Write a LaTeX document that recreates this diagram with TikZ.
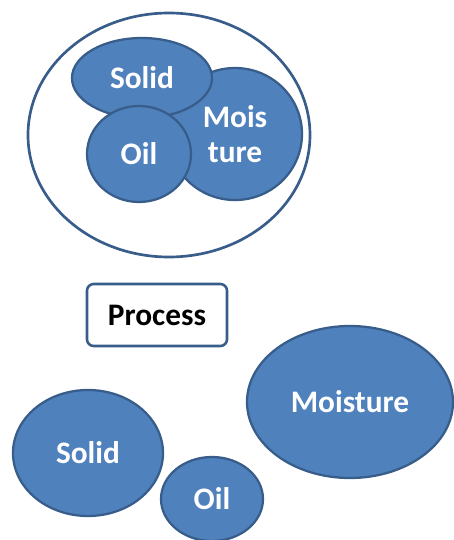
\documentclass[tikz,border=0pt]{standalone}
\usepackage{fontspec}
\setmainfont{Carlito}
\usetikzlibrary{shapes.geometric}
\definecolor{phasefill}{HTML}{4F81BD}
\definecolor{phaseline}{HTML}{385D8A}
\begin{document}
\begin{tikzpicture}[
      x=0.75pt, y=-0.75pt,
      phase/.style={ellipse, draw=phaseline, line width=1.7pt, fill=phasefill,
                    inner sep=0pt, align=center, text=white,
                    font=\fontsize{23.5}{26}\selectfont\bfseries},
      processbox/.style={draw=phaseline, line width=1.9pt, rounded corners=5pt,
                         minimum width=105pt, minimum height=46.5pt,
                         font=\fontsize{23.5}{26}\selectfont\bfseries}
    ]
      \useasboundingbox (0,0) rectangle (454,540);
      % mixture before the process
      \node[ellipse, draw=phaseline, line width=2pt, fill=white,
            minimum width=211.5pt, minimum height=183pt] (mix) at (169,135) {};
      \node[phase, minimum width=100.5pt, minimum height=99pt] (mixmoist) at (235,134) {Mois\\ture};
      \node[phase, minimum width=105pt, minimum height=60pt] (mixsolid) at (142,78) {Solid};
      \node[phase, minimum width=78pt, minimum height=72pt] (mixoil) at (139,154) {Oil};
      % step
      \node[processbox] (process) at (157,315) {Process};
      % separated phases
      \node[phase, minimum width=112.5pt, minimum height=94.5pt] (solid) at (88,453) {Solid};
      \node[phase, minimum width=76.5pt, minimum height=63pt] (oil) at (212,499) {Oil};
      \node[phase, minimum width=154.5pt, minimum height=114pt] (moist) at (350,402) {Moisture};
    \end{tikzpicture}
\end{document}
